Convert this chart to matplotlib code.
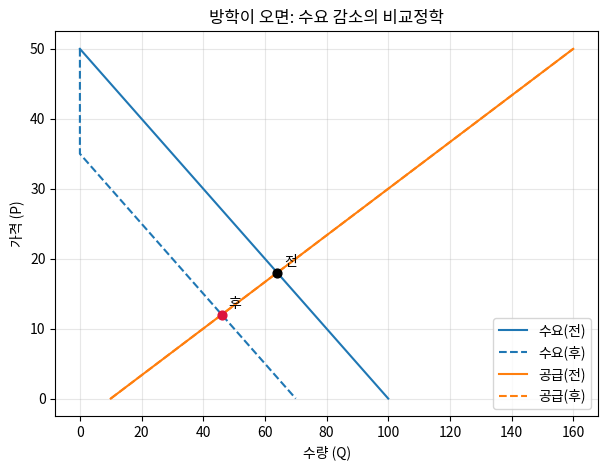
import matplotlib
matplotlib.use("Agg")
import matplotlib.pyplot as plt

plt.rcParams['font.family'] = ['Noto Sans CJK KR', 'DejaVu Sans']
plt.rcParams['axes.unicode_minus'] = False

# 수요/공급 곡선 꼭짓점 (수량, 가격)
demand_before_q = [0, 100]
demand_before_p = [50, 0]
demand_after_q = [0, 0, 70]
demand_after_p = [50, 35, 0]
supply_q = [10, 160]
supply_p = [0, 50]

eq_before = (64, 18)
eq_after = (46, 12)

fig, ax = plt.subplots(figsize=(6.07, 4.68), dpi=100)
ax.plot(demand_before_q, demand_before_p, color='#1f77b4', label='수요(전)')
ax.plot(demand_after_q, demand_after_p, color='#1f77b4', ls='--', label='수요(후)')
ax.plot(supply_q, supply_p, color='#ff7f0e', label='공급(전)')
ax.plot(supply_q, supply_p, color='#ff7f0e', ls='--', label='공급(후)')

ax.scatter([eq_before[0]], [eq_before[1]], color='black', zorder=5, s=40)
ax.scatter([eq_after[0]], [eq_after[1]], color='crimson', zorder=5, s=40)
ax.annotate('전', eq_before, xytext=(5, 5), textcoords='offset points')
ax.annotate('후', eq_after, xytext=(5, 5), textcoords='offset points')

ax.set_title('방학이 오면: 수요 감소의 비교정학')
ax.set_xlabel('수량 (Q)')
ax.set_ylabel('가격 (P)')
ax.grid(alpha=0.3)
ax.legend(loc='lower right')
fig.subplots_adjust(left=0.091, right=0.985, top=0.933, bottom=0.111)
fig.savefig('out.png')
